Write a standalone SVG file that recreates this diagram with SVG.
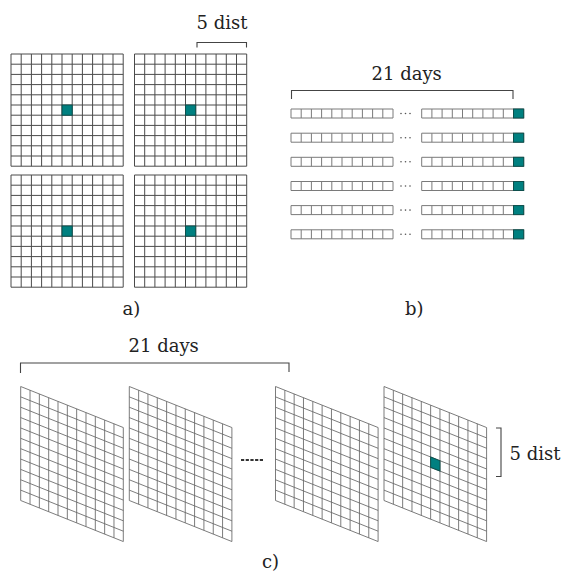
<svg xmlns="http://www.w3.org/2000/svg" width="561" height="574" viewBox="0 0 561 574">
<style>
.t{font-family:"DejaVu Serif","Liberation Serif",serif;font-size:18px;fill:#222}
.ga{fill:none;stroke:#4a4a4a;stroke-width:1}
.gb{fill:none;stroke:#7a7a7a;stroke-width:1}
.gc{fill:#fff;stroke:#6a6a6a;stroke-width:0.8}
.tl{fill:#008080;stroke:#0d4f4c;stroke-width:1}
.br{fill:none;stroke:#444;stroke-width:1.1}
</style>
<defs>
<path id="gridA" class="ga" d="M0,0V112.2M10.2,0V112.2M20.4,0V112.2M30.6,0V112.2M40.8,0V112.2M51,0V112.2M61.2,0V112.2M71.4,0V112.2M81.6,0V112.2M91.8,0V112.2M102,0V112.2M112.2,0V112.2M0,0H112.2M0,10.2H112.2M0,20.4H112.2M0,30.6H112.2M0,40.8H112.2M0,51H112.2M0,61.2H112.2M0,71.4H112.2M0,81.6H112.2M0,91.8H112.2M0,102H112.2M0,112.2H112.2"/>
<path id="rowB" class="gb" d="M0,0H102V9H0ZM10.2,0V9M20.4,0V9M30.6,0V9M40.8,0V9M51,0V9M61.2,0V9M71.4,0V9M81.6,0V9M91.8,0V9M130.7,0H232.7V9H130.7ZM140.9,0V9M151.1,0V9M161.3,0V9M171.5,0V9M181.7,0V9M191.9,0V9M202.1,0V9M212.3,0V9M222.5,0V9"/>
<g id="rowDots" fill="#555"><circle cx="110" cy="4.5" r="0.8"/><circle cx="114.5" cy="4.5" r="0.8"/><circle cx="119" cy="4.5" r="0.8"/></g>
<path id="gridC" class="gc" d="M0,0H102.6V114H0ZM9.33,0V114M18.65,0V114M27.98,0V114M37.31,0V114M46.64,0V114M55.96,0V114M65.29,0V114M74.62,0V114M83.95,0V114M93.27,0V114M0,10.36H102.6M0,20.73H102.6M0,31.09H102.6M0,41.45H102.6M0,51.82H102.6M0,62.18H102.6M0,72.55H102.6M0,82.91H102.6M0,93.27H102.6M0,103.64H102.6"/>
</defs>

<!-- panel a -->
<g id="gridA1" transform="translate(11,54)"><use href="#gridA"/><rect class="tl" x="51" y="51" width="10.2" height="10.2"/></g>
<g id="gridA2" transform="translate(134.5,54)"><use href="#gridA"/><rect class="tl" x="51" y="51" width="10.2" height="10.2"/></g>
<g id="gridA3" transform="translate(11,175)"><use href="#gridA"/><rect class="tl" x="51" y="51" width="10.2" height="10.2"/></g>
<g id="gridA4" transform="translate(134.5,175)"><use href="#gridA"/><rect class="tl" x="51" y="51" width="10.2" height="10.2"/></g>
<text class="t" x="196.5" y="29">5 dist</text>
<text class="t" x="122.5" y="315">a)</text>

<!-- panel b -->
<g id="rowB1" transform="translate(291,109)"><use href="#rowB"/><use href="#rowDots"/><rect class="tl" x="222.5" y="0" width="10.2" height="9"/></g>
<g id="rowB2" transform="translate(291,133.2)"><use href="#rowB"/><use href="#rowDots"/><rect class="tl" x="222.5" y="0" width="10.2" height="9"/></g>
<g id="rowB3" transform="translate(291,157.3)"><use href="#rowB"/><use href="#rowDots"/><rect class="tl" x="222.5" y="0" width="10.2" height="9"/></g>
<g id="rowB4" transform="translate(291,181.5)"><use href="#rowB"/><use href="#rowDots"/><rect class="tl" x="222.5" y="0" width="10.2" height="9"/></g>
<g id="rowB5" transform="translate(291,205.6)"><use href="#rowB"/><use href="#rowDots"/><rect class="tl" x="222.5" y="0" width="10.2" height="9"/></g>
<g id="rowB6" transform="translate(291,229.8)"><use href="#rowB"/><use href="#rowDots"/><rect class="tl" x="222.5" y="0" width="10.2" height="9"/></g>
<text class="t" x="371.5" y="79.5">21 days</text>
<text class="t" x="405" y="315">b)</text>

<!-- panel c -->
<g id="gridC1" transform="matrix(1,0.4,0,1,20.7,386.5)"><use href="#gridC"/></g>
<g id="gridC2" transform="matrix(1,0.4,0,1,129.3,386.5)"><use href="#gridC"/></g>
<g id="gridC3" transform="matrix(1,0.4,0,1,275.5,386.5)"><use href="#gridC"/></g>
<g id="gridC4" transform="matrix(1,0.4,0,1,384,386.5)"><use href="#gridC"/><rect class="tl" x="46.64" y="51.82" width="9.33" height="10.36" stroke-width="0.8"/></g>
<line x1="241" y1="460" x2="264" y2="460" stroke="#333" stroke-width="2" stroke-dasharray="3.2,1.5"/>
<text class="t" x="128.5" y="351.5">21 days</text>
<text class="t" x="509.5" y="460">5 dist</text>
<text class="t" x="262" y="568">c)</text>

<!-- brackets -->
<g id="connectors">
<path class="br" d="M197,47.5V42.5H246.5V47.5"/>
<path class="br" d="M291.5,99V90.5H513V99"/>
<path class="br" d="M20.5,373V363H289V372"/>
<path class="br" d="M496,428H501V476.5H496"/>
</g>
</svg>
